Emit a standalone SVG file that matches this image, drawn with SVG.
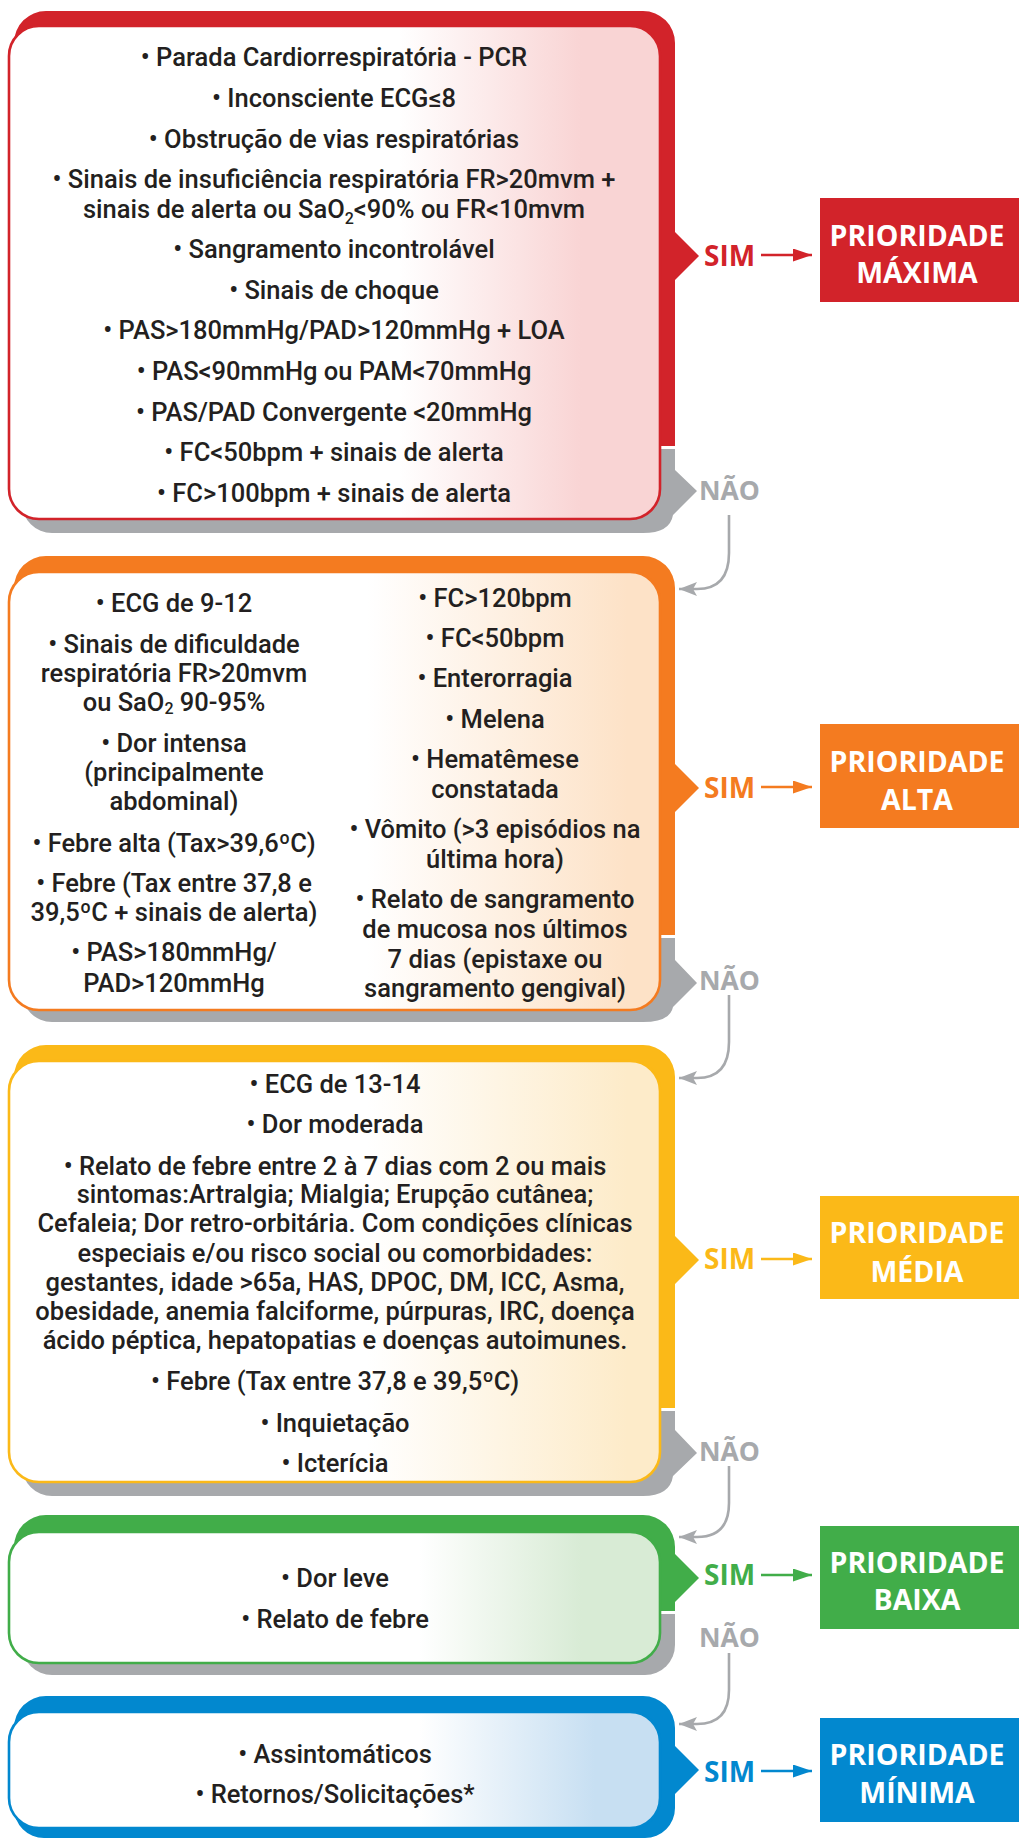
<svg xmlns="http://www.w3.org/2000/svg" width="1019" height="1838" viewBox="0 0 1019 1838">
<style>
.t{font-family:Roboto,"Liberation Sans",sans-serif;font-size:25.5px;font-weight:500;fill:#231f20;text-anchor:middle}
.b{font-family:"Open Sans","Liberation Sans",sans-serif;font-weight:700;text-anchor:middle}
.pr{font-size:28.5px;fill:#ffffff}
.sim{font-size:28px;text-anchor:start}
.nao{font-size:26.5px;fill:#a7a9ac;text-anchor:start}
.gray{fill:#a7a9ac}
.conn{fill:none;stroke:#a7a9ac;stroke-width:2.6}
.inner{stroke-width:2.6}
</style>
<defs>
<linearGradient id="gR" x1="0" y1="0" x2="1" y2="0"><stop offset="0.6" stop-color="#ffffff"/><stop offset="0.88" stop-color="#f9d4d4"/></linearGradient>
<linearGradient id="gO" x1="0" y1="0" x2="1" y2="0"><stop offset="0.55" stop-color="#ffffff"/><stop offset="0.95" stop-color="#fde2c7"/></linearGradient>
<linearGradient id="gY" x1="0" y1="0" x2="1" y2="0"><stop offset="0.55" stop-color="#ffffff"/><stop offset="0.95" stop-color="#fdebc9"/></linearGradient>
<linearGradient id="gG" x1="0" y1="0" x2="1" y2="0"><stop offset="0.63" stop-color="#ffffff"/><stop offset="0.88" stop-color="#d8ebd5"/></linearGradient>
<linearGradient id="gB" x1="0" y1="0" x2="1" y2="0"><stop offset="0.63" stop-color="#ffffff"/><stop offset="0.9" stop-color="#c7dff2"/></linearGradient>
<marker id="aGray" markerUnits="userSpaceOnUse" markerWidth="18" markerHeight="14" refX="18" refY="7" orient="auto" viewBox="0 0 18 14"><path d="M0,0 L18,7 L0,14 L4,7 Z" fill="#a7a9ac"/></marker>
<marker id="aR" markerUnits="userSpaceOnUse" markerWidth="19" markerHeight="13" refX="19" refY="6.5" orient="auto" viewBox="0 0 19 13"><path d="M0,0 L19,6.5 L0,13 Z" fill="#d2232a"/></marker>
<marker id="aO" markerUnits="userSpaceOnUse" markerWidth="19" markerHeight="13" refX="19" refY="6.5" orient="auto" viewBox="0 0 19 13"><path d="M0,0 L19,6.5 L0,13 Z" fill="#f47b20"/></marker>
<marker id="aY" markerUnits="userSpaceOnUse" markerWidth="19" markerHeight="13" refX="19" refY="6.5" orient="auto" viewBox="0 0 19 13"><path d="M0,0 L19,6.5 L0,13 Z" fill="#fbb918"/></marker>
<marker id="aG" markerUnits="userSpaceOnUse" markerWidth="19" markerHeight="13" refX="19" refY="6.5" orient="auto" viewBox="0 0 19 13"><path d="M0,0 L19,6.5 L0,13 Z" fill="#41ad49"/></marker>
<marker id="aB" markerUnits="userSpaceOnUse" markerWidth="19" markerHeight="13" refX="19" refY="6.5" orient="auto" viewBox="0 0 19 13"><path d="M0,0 L19,6.5 L0,13 Z" fill="#0288cf"/></marker>
</defs>
<rect width="1019" height="1838" fill="#ffffff"/>

<!-- RED block -->
<g id="node-red">
<path class="gray" d="M22,449 H675 V470 L697,491 L673,515 Q670,533 643,533 H52 A30,30 0 0 1 22,503 Z"/>
<path fill="#d2232a" d="M14,43 A32,32 0 0 1 46,11 H643 A32,32 0 0 1 675,43 V232 L699,256 L675,280 V446 H14 Z"/>
<rect class="inner" x="9" y="26" width="651" height="493" rx="30" fill="url(#gR)" stroke="#d2232a"/>
<text class="t" x="334" y="66">• Parada Cardiorrespiratória - PCR</text>
<text class="t" x="334" y="107">• Inconsciente ECG≤8</text>
<text class="t" x="334" y="148">• Obstrução de vias respiratórias</text>
<text class="t" x="334" y="188">• Sinais de insuficiência respiratória FR&gt;20mvm +</text>
<text class="t" x="334" y="218">sinais de alerta ou SaO<tspan font-size="16" dy="6">2</tspan><tspan dy="-6">&lt;90% ou FR&lt;10mvm</tspan></text>
<text class="t" x="334" y="258">• Sangramento incontrolável</text>
<text class="t" x="334" y="299">• Sinais de choque</text>
<text class="t" x="334" y="339">• PAS&gt;180mmHg/PAD&gt;120mmHg + LOA</text>
<text class="t" x="334" y="380">• PAS&lt;90mmHg ou PAM&lt;70mmHg</text>
<text class="t" x="334" y="421">• PAS/PAD Convergente &lt;20mmHg</text>
<text class="t" x="334" y="461">• FC&lt;50bpm + sinais de alerta</text>
<text class="t" x="334" y="502">• FC&gt;100bpm + sinais de alerta</text>
<text class="b sim" x="704" y="266" fill="#d2232a">SIM</text>
<text class="b nao" x="699" y="500">NÃO</text>
</g>
<g id="prio-max">
<rect x="820" y="198" width="199" height="104" fill="#d2232a"/>
<text class="b pr" x="917" y="246">PRIORIDADE</text>
<text class="b pr" x="917" y="283">MÁXIMA</text>
</g>

<!-- ORANGE block -->
<g id="node-orange">
<path class="gray" d="M22,938 H675 V960 L697,983 L673,1007 Q670,1022 643,1022 H52 A30,30 0 0 1 22,992 Z"/>
<path fill="#f47b20" d="M14,588 A32,32 0 0 1 46,556 H643 A32,32 0 0 1 675,588 V764 L699,788 L675,812 V935 H14 Z"/>
<rect class="inner" x="9" y="572" width="651" height="438" rx="30" fill="url(#gO)" stroke="#f47b20"/>
<text class="t" x="174" y="612">• ECG de 9-12</text>
<text class="t" x="174" y="653">• Sinais de dificuldade</text>
<text class="t" x="174" y="682">respiratória FR&gt;20mvm</text>
<text class="t" x="174" y="711">ou SaO<tspan font-size="16" dy="3">2</tspan><tspan dy="-3"> 90-95%</tspan></text>
<text class="t" x="174" y="752">• Dor intensa</text>
<text class="t" x="174" y="781">(principalmente</text>
<text class="t" x="174" y="810">abdominal)</text>
<text class="t" x="174" y="852">• Febre alta (Tax&gt;39,6ºC)</text>
<text class="t" x="174" y="892">• Febre (Tax entre 37,8 e</text>
<text class="t" x="174" y="921">39,5ºC + sinais de alerta)</text>
<text class="t" x="174" y="961">• PAS&gt;180mmHg/</text>
<text class="t" x="174" y="992">PAD&gt;120mmHg</text>
<text class="t" x="495" y="607">• FC&gt;120bpm</text>
<text class="t" x="495" y="647">• FC&lt;50bpm</text>
<text class="t" x="495" y="687">• Enterorragia</text>
<text class="t" x="495" y="728">• Melena</text>
<text class="t" x="495" y="768">• Hematêmese</text>
<text class="t" x="495" y="798">constatada</text>
<text class="t" x="495" y="838">• Vômito (&gt;3 episódios na</text>
<text class="t" x="495" y="868">última hora)</text>
<text class="t" x="495" y="908">• Relato de sangramento</text>
<text class="t" x="495" y="938">de mucosa nos últimos</text>
<text class="t" x="495" y="968">7 dias (epistaxe ou</text>
<text class="t" x="495" y="997">sangramento gengival)</text>
<text class="b sim" x="704" y="798" fill="#f47b20">SIM</text>
<text class="b nao" x="699" y="990">NÃO</text>
</g>
<g id="prio-alta">
<rect x="820" y="724" width="199" height="104" fill="#f47b20"/>
<text class="b pr" x="917" y="772">PRIORIDADE</text>
<text class="b pr" x="917" y="810">ALTA</text>
</g>

<!-- YELLOW block -->
<g id="node-yellow">
<path class="gray" d="M22,1411 H675 V1430 L697,1453 L673,1476 Q670,1496 643,1496 H52 A30,30 0 0 1 22,1466 Z"/>
<path fill="#fbb918" d="M14,1077 A32,32 0 0 1 46,1045 H643 A32,32 0 0 1 675,1077 V1236 L699,1260 L675,1284 V1408 H14 Z"/>
<rect class="inner" x="9" y="1061" width="651" height="421" rx="30" fill="url(#gY)" stroke="#fbb918"/>
<text class="t" x="335" y="1093">• ECG de 13-14</text>
<text class="t" x="335" y="1133">• Dor moderada</text>
<text class="t" x="335" y="1175">• Relato de febre entre 2 à 7 dias com 2 ou mais</text>
<text class="t" x="335" y="1203">sintomas:Artralgia; Mialgia; Erupção cutânea;</text>
<text class="t" x="335" y="1232">Cefaleia; Dor retro-orbitária. Com condições clínicas</text>
<text class="t" x="335" y="1262">especiais e/ou risco social ou comorbidades:</text>
<text class="t" x="335" y="1291">gestantes, idade &gt;65a, HAS, DPOC, DM, ICC, Asma,</text>
<text class="t" x="335" y="1320">obesidade, anemia falciforme, púrpuras, IRC, doença</text>
<text class="t" x="335" y="1349">ácido péptica, hepatopatias e doenças autoimunes.</text>
<text class="t" x="335" y="1390">• Febre (Tax entre 37,8 e 39,5ºC)</text>
<text class="t" x="335" y="1432">• Inquietação</text>
<text class="t" x="335" y="1472">• Icterícia</text>
<text class="b sim" x="704" y="1269" fill="#fbb918">SIM</text>
<text class="b nao" x="699" y="1461">NÃO</text>
</g>
<g id="prio-media">
<rect x="820" y="1196" width="199" height="103" fill="#fbb918"/>
<text class="b pr" x="917" y="1243">PRIORIDADE</text>
<text class="b pr" x="917" y="1282">MÉDIA</text>
</g>

<!-- GREEN block -->
<g id="node-green">
<path class="gray" d="M22,1614 H675 V1645 A30,30 0 0 1 645,1675 H52 A30,30 0 0 1 22,1645 Z"/>
<path fill="#41ad49" d="M14,1547 A32,32 0 0 1 46,1515 H643 A32,32 0 0 1 675,1547 V1554 L699,1578 L675,1602 V1611 H14 Z"/>
<rect class="inner" x="9" y="1532" width="651" height="131" rx="30" fill="url(#gG)" stroke="#41ad49"/>
<text class="t" x="335" y="1587">• Dor leve</text>
<text class="t" x="335" y="1628">• Relato de febre</text>
<text class="b sim" x="704" y="1585" fill="#41ad49">SIM</text>
<text class="b nao" x="699" y="1647">NÃO</text>
</g>
<g id="prio-baixa">
<rect x="820" y="1526" width="199" height="103" fill="#41ad49"/>
<text class="b pr" x="917" y="1573">PRIORIDADE</text>
<text class="b pr" x="917" y="1610">BAIXA</text>
</g>

<!-- BLUE block -->
<g id="node-blue">
<path fill="#0288cf" d="M14,1728 A32,32 0 0 1 46,1696 H643 A32,32 0 0 1 675,1728 V1746 L699,1770 L675,1794 V1808 A30,30 0 0 1 645,1838 H44 A30,30 0 0 1 14,1808 Z"/>
<rect class="inner" x="9" y="1712" width="651" height="116" rx="30" fill="url(#gB)" stroke="#0288cf"/>
<text class="t" x="335" y="1763">• Assintomáticos</text>
<text class="t" x="335" y="1803">• Retornos/Solicitações*</text>
<text class="b sim" x="704" y="1782" fill="#0288cf">SIM</text>
</g>
<g id="prio-minima">
<rect x="820" y="1718" width="199" height="104" fill="#0288cf"/>
<text class="b pr" x="917" y="1765">PRIORIDADE</text>
<text class="b pr" x="917" y="1803">MÍNIMA</text>
</g>

<!-- connectors -->
<g id="connectors">
<line x1="761" y1="255" x2="812" y2="255" stroke="#d2232a" stroke-width="2.6" marker-end="url(#aR)"/>
<line x1="761" y1="787" x2="812" y2="787" stroke="#f47b20" stroke-width="2.6" marker-end="url(#aO)"/>
<line x1="761" y1="1259" x2="812" y2="1259" stroke="#fbb918" stroke-width="2.6" marker-end="url(#aY)"/>
<line x1="761" y1="1575" x2="812" y2="1575" stroke="#41ad49" stroke-width="2.6" marker-end="url(#aG)"/>
<line x1="761" y1="1771" x2="812" y2="1771" stroke="#0288cf" stroke-width="2.6" marker-end="url(#aB)"/>
<path class="conn" d="M729,515 V553 Q729,589 697,589 H679" marker-end="url(#aGray)"/>
<path class="conn" d="M729,995 V1042 Q729,1078 697,1078 H679" marker-end="url(#aGray)"/>
<path class="conn" d="M729,1466 V1503 Q729,1537 697,1537 H679" marker-end="url(#aGray)"/>
<path class="conn" d="M729,1653 V1690 Q729,1724 697,1724 H679" marker-end="url(#aGray)"/>
</g>
</svg>
